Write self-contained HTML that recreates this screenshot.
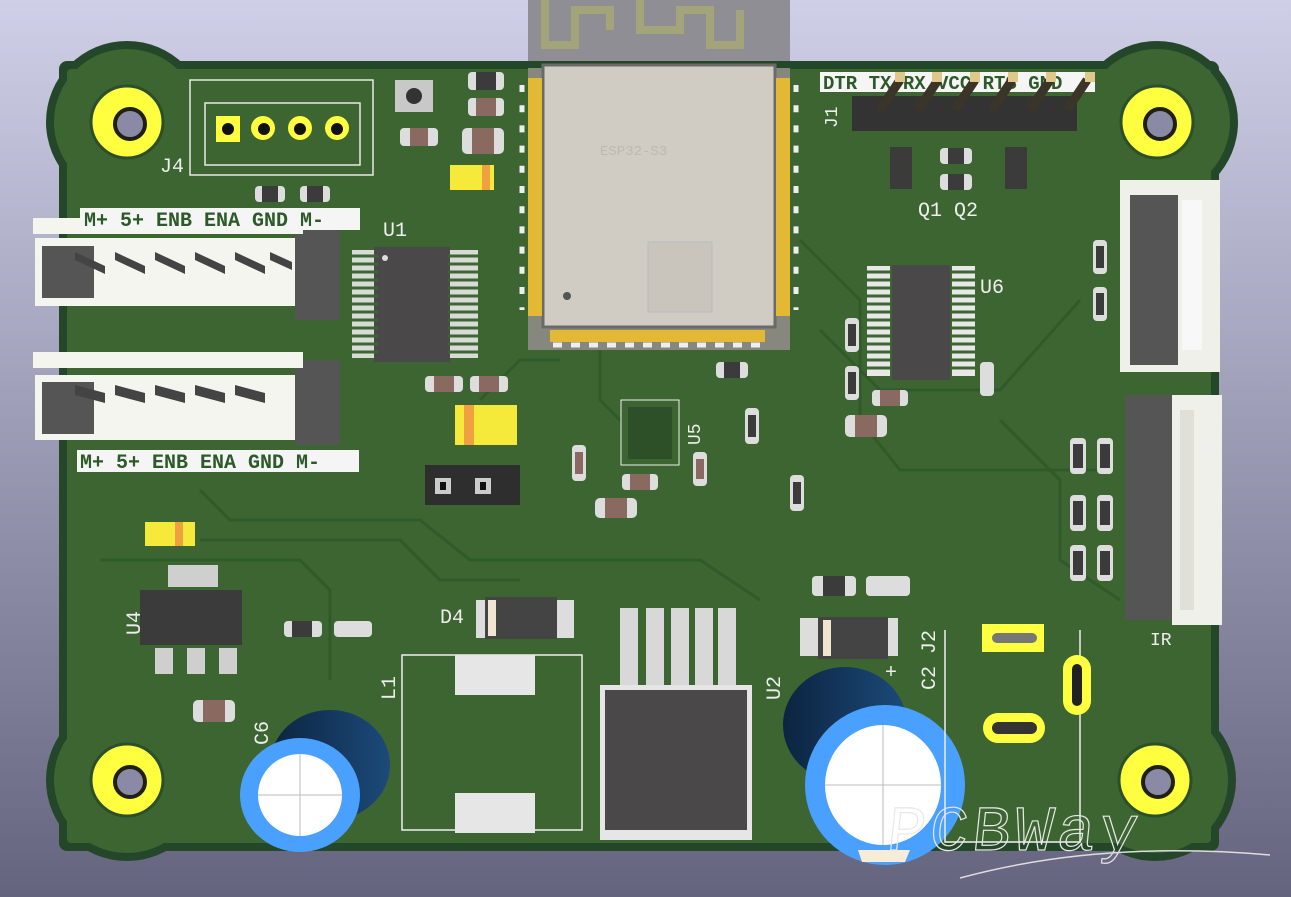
<!DOCTYPE html>
<html><head><meta charset="utf-8"><style>
html,body{margin:0;padding:0;width:1291px;height:897px;overflow:hidden}
svg{display:block}
text{font-family:"Liberation Mono","DejaVu Sans Mono",monospace}
</style></head><body>
<svg width="1291" height="897" viewBox="0 0 1291 897" xmlns="http://www.w3.org/2000/svg">
<defs>
<linearGradient id="bg" x1="0" y1="0" x2="0" y2="1">
<stop offset="0" stop-color="#cfcfe8"/><stop offset="1" stop-color="#64647e"/></linearGradient>
<linearGradient id="cap" x1="0" y1="0" x2="1" y2="0"><stop offset="0" stop-color="#0c2440"/><stop offset="1" stop-color="#1c4a7a"/></linearGradient>
</defs>
<rect width="1291" height="897" fill="url(#bg)"/>
<!-- ESP antenna -->
<rect x="528" y="0" width="262" height="70" fill="#8e8e94"/>
<path d="M545 0 V45 H575 V10 H610 V30 M640 0 V30 H680 V10 H710 V45 H740 V10" fill="none" stroke="#a4a47a" stroke-width="8"/>
<!-- board -->
<g fill="#24472a">
<rect x="59" y="61" width="1160" height="790" rx="8"/>
<circle cx="127" cy="122" r="81"/><circle cx="1157" cy="122" r="81"/><circle cx="127" cy="780" r="81"/><circle cx="1155" cy="780" r="81"/>
</g>
<g fill="#3d6532">
<rect x="67" y="69" width="1144" height="774" rx="4"/>
<circle cx="127" cy="122" r="73"/><circle cx="1157" cy="122" r="73"/><circle cx="127" cy="780" r="73"/><circle cx="1155" cy="780" r="73"/>
</g>
<!-- traces hint -->
<g fill="none" stroke="#2f5a2a" stroke-width="3">
<path d="M200 490 L230 520 H420 L470 560 H700 L760 600"/><path d="M200 540 H400 L440 580 H520"/>
<path d="M800 240 L860 300 V420 L900 470 H1100"/><path d="M820 330 L880 390 H1000 L1080 300"/>
<path d="M480 400 L520 360 H560"/><path d="M100 560 H300 L330 590 V680"/>
<path d="M600 350 V400 L640 440"/><path d="M1000 420 L1060 480 V560 L1120 600"/>
</g>
<!-- mounting holes -->
<g fill="#ffff40" stroke="#2a4f2a" stroke-width="3">
<circle cx="127" cy="122" r="36"/><circle cx="1157" cy="122" r="36"/><circle cx="127" cy="780" r="36"/><circle cx="1155" cy="780" r="36"/>
</g>
<g fill="#8b8aa6" stroke="#202010" stroke-width="4">
<circle cx="130" cy="124" r="15"/><circle cx="1160" cy="124" r="15"/><circle cx="130" cy="782" r="15"/><circle cx="1158" cy="782" r="15"/>
</g>
<!-- J4 -->
<g fill="none" stroke="#e8e8e8" stroke-width="1.5">
<rect x="190" y="80" width="183" height="95"/><rect x="205" y="103" width="155" height="62"/>
</g>
<rect x="216" y="116" width="24" height="26" fill="#ffff40"/>
<g fill="#ffff40"><circle cx="263" cy="128" r="12"/><circle cx="300" cy="128" r="12"/><circle cx="337" cy="128" r="12"/></g>
<g fill="#111"><circle cx="228" cy="129" r="6"/><circle cx="264" cy="129" r="6"/><circle cx="300" cy="129" r="6"/><circle cx="337" cy="129" r="6"/></g>
<text x="160" y="172" font-size="20" fill="#eee">J4</text>
<!-- small SMD -->
<g fill="#ddd">
<rect x="255" y="186" width="30" height="16" rx="4"/><rect x="300" y="186" width="30" height="16" rx="4"/>
<rect x="400" y="128" width="38" height="18" rx="4"/><rect x="468" y="72" width="36" height="18" rx="4"/><rect x="468" y="98" width="36" height="18" rx="4"/><rect x="462" y="128" width="42" height="26" rx="5"/>
<rect x="425" y="376" width="38" height="16" rx="4"/><rect x="470" y="376" width="38" height="16" rx="4"/>
<rect x="716" y="362" width="32" height="16" rx="4"/><rect x="845" y="318" width="14" height="34" rx="4"/><rect x="845" y="366" width="14" height="34" rx="4"/><rect x="845" y="415" width="42" height="22" rx="5"/><rect x="872" y="390" width="36" height="16" rx="4"/>
<rect x="940" y="148" width="32" height="16" rx="4"/><rect x="940" y="174" width="32" height="16" rx="4"/>
<rect x="1093" y="240" width="14" height="34" rx="4"/><rect x="1093" y="287" width="14" height="34" rx="4"/><rect x="980" y="362" width="14" height="34" rx="4"/>
<rect x="572" y="445" width="14" height="36" rx="4"/><rect x="595" y="498" width="42" height="20" rx="5"/><rect x="622" y="474" width="36" height="16" rx="4"/><rect x="693" y="452" width="14" height="34" rx="4"/><rect x="745" y="408" width="14" height="36" rx="4"/><rect x="790" y="475" width="14" height="36" rx="4"/>
<rect x="1070" y="438" width="16" height="36" rx="4"/><rect x="1097" y="438" width="16" height="36" rx="4"/><rect x="1070" y="495" width="16" height="36" rx="4"/><rect x="1097" y="495" width="16" height="36" rx="4"/><rect x="1070" y="545" width="16" height="36" rx="4"/><rect x="1097" y="545" width="16" height="36" rx="4"/>
<rect x="812" y="576" width="44" height="20" rx="4"/><rect x="866" y="576" width="44" height="20" rx="4"/>
<rect x="284" y="621" width="38" height="16" rx="4"/><rect x="334" y="621" width="38" height="16" rx="4"/><rect x="193" y="700" width="42" height="22" rx="5"/>
</g>
<g fill="#3b3b3b"><rect x="262" y="186" width="16" height="16"/><rect x="307" y="186" width="16" height="16"/><rect x="476" y="72" width="20" height="18"/><rect x="724" y="362" width="16" height="16"/><rect x="823" y="576" width="22" height="20"/><rect x="848" y="324" width="8" height="22"/><rect x="848" y="372" width="8" height="22"/><rect x="948" y="148" width="16" height="16"/><rect x="948" y="174" width="16" height="16"/><rect x="1096" y="246" width="8" height="22"/><rect x="1096" y="293" width="8" height="22"/><rect x="1073" y="444" width="10" height="24"/><rect x="1100" y="444" width="10" height="24"/><rect x="1073" y="501" width="10" height="24"/><rect x="1100" y="501" width="10" height="24"/><rect x="1073" y="551" width="10" height="24"/><rect x="1100" y="551" width="10" height="24"/><rect x="292" y="621" width="20" height="16"/><rect x="748" y="415" width="8" height="22"/><rect x="793" y="482" width="8" height="22"/></g>
<g fill="#8a6a60"><rect x="410" y="128" width="18" height="18"/><rect x="476" y="98" width="20" height="18"/><rect x="472" y="128" width="22" height="26"/><rect x="434" y="376" width="20" height="16"/><rect x="479" y="376" width="20" height="16"/><rect x="855" y="415" width="22" height="22"/><rect x="880" y="390" width="20" height="16"/><rect x="605" y="498" width="22" height="20"/><rect x="630" y="474" width="20" height="16"/><rect x="575" y="452" width="8" height="22"/><rect x="696" y="459" width="8" height="20"/><rect x="203" y="700" width="22" height="22"/></g>
<!-- button -->
<rect x="395" y="80" width="38" height="32" fill="#c8c8c8"/><circle cx="414" cy="96" r="8" fill="#333"/>
<!-- tantalum caps -->
<rect x="450" y="165" width="44" height="25" fill="#f5e93a"/><rect x="482" y="165" width="8" height="25" fill="#f0a040"/>
<rect x="455" y="405" width="62" height="40" fill="#f5e93a"/><rect x="464" y="405" width="10" height="40" fill="#f0a040"/>
<rect x="145" y="522" width="50" height="24" fill="#f5e93a"/><rect x="175" y="522" width="8" height="24" fill="#f0a040"/>
<!-- motor connectors -->
<g>
<rect x="35" y="238" width="300" height="68" fill="#f5f5f0"/><rect x="42" y="246" width="52" height="52" fill="#555"/><rect x="295" y="230" width="45" height="90" fill="#555"/>
<rect x="33" y="218" width="270" height="16" fill="#f5f5f0"/>
<rect x="35" y="375" width="300" height="65" fill="#f5f5f0"/><rect x="42" y="382" width="52" height="52" fill="#555"/><rect x="295" y="360" width="45" height="85" fill="#555"/>
<rect x="33" y="352" width="270" height="16" fill="#f5f5f0"/>
<g fill="#444"><path d="M75 252 l30 14 v8 l-30 -14z M115 252 l30 14 v8 l-30 -14z M155 252 l30 14 v8 l-30 -14z M195 252 l30 14 v8 l-30 -14z M235 252 l30 14 v8 l-30 -14z M270 252 l22 10 v8 l-22 -10z"/>
<path d="M75 385 l30 8 v10 l-30 -8z M115 385 l30 8 v10 l-30 -8z M155 385 l30 8 v10 l-30 -8z M195 385 l30 8 v10 l-30 -8z M235 385 l30 8 v10 l-30 -8z"/></g>
</g>
<rect x="80" y="208" width="280" height="22" fill="#f5f5f5"/>
<text x="84" y="226" font-size="20" fill="#2c5a28" font-weight="bold">M+ 5+ ENB ENA GND M-</text>
<rect x="77" y="450" width="282" height="22" fill="#f5f5f5"/>
<text x="80" y="468" font-size="20" fill="#2c5a28" font-weight="bold">M+ 5+ ENB ENA GND M-</text>
<!-- U1 -->
<rect x="374" y="247" width="76" height="115" fill="#4a4848"/><circle cx="385" cy="258" r="3" fill="#ddd"/>
<g fill="#e8e8e8"><rect x="352" y="250" width="22" height="108" opacity=".9"/><rect x="450" y="250" width="28" height="108" opacity=".9"/></g>
<g stroke="#3d6532" stroke-width="3"><path d="M352 256 h26 M352 264 h26 M352 272 h26 M352 280 h26 M352 288 h26 M352 296 h26 M352 304 h26 M352 312 h26 M352 320 h26 M352 328 h26 M352 336 h26 M352 344 h26 M352 352 h26 M448 256 h32 M448 264 h32 M448 272 h32 M448 280 h32 M448 288 h32 M448 296 h32 M448 304 h32 M448 312 h32 M448 320 h32 M448 328 h32 M448 336 h32 M448 344 h32 M448 352 h32"/></g>
<text x="383" y="236" font-size="20" fill="#eee">U1</text>
<!-- ESP module -->
<rect x="528" y="68" width="262" height="282" fill="#86887e"/>
<rect x="543" y="65" width="232" height="262" fill="#d0ccc4" stroke="#6a6a66" stroke-width="3"/>
<rect x="648" y="242" width="64" height="70" fill="#c9c4bc" stroke="#bbb"/>
<circle cx="567" cy="296" r="4" fill="#555"/>
<text x="600" y="155" font-size="14" fill="#bdb8b0">ESP32-S3</text>
<g fill="#e3b834">
<rect x="528" y="78" width="14" height="238"/><rect x="776" y="78" width="14" height="238"/><rect x="550" y="330" width="215" height="12"/>
</g>
<g stroke="#eee" stroke-width="5"><path d="M522 85 v225 M796 85 v225" stroke-dasharray="7 13.2"/><path d="M553 345 h210" stroke-dasharray="9 9"/></g>
<!-- J1 -->
<rect x="820" y="72" width="275" height="20" fill="#f5f5f5"/>
<text x="823" y="89" font-size="19" fill="#2c5a28" font-weight="bold">DTR TX RX VCC RTS GND</text>
<rect x="852" y="96" width="225" height="35" fill="#333"/>
<g stroke="#3a3528" stroke-width="9"><path d="M880 110 L900 80 M918 110 L938 80 M955 110 L975 80 M992 110 L1012 80 M1030 110 L1050 80 M1067 110 L1087 80"/></g>
<g fill="#e0c88a"><rect x="895" y="72" width="10" height="10"/><rect x="932" y="72" width="10" height="10"/><rect x="970" y="72" width="10" height="10"/><rect x="1008" y="72" width="10" height="10"/><rect x="1046" y="72" width="10" height="10"/><rect x="1085" y="72" width="10" height="10"/></g>
<text x="837" y="128" font-size="18" fill="#eee" transform="rotate(-90 837 128)">J1</text>
<rect x="890" y="147" width="22" height="42" fill="#3b3b3b"/><rect x="1005" y="147" width="22" height="42" fill="#3b3b3b"/>
<text x="918" y="216" font-size="20" fill="#eee">Q1 Q2</text>
<!-- U6 -->
<g fill="#e8e8e8"><rect x="867" y="266" width="23" height="110"/><rect x="952" y="266" width="23" height="110"/></g>
<g stroke="#3d6532" stroke-width="3"><path d="M867 272 h110 M867 280 h110 M867 288 h110 M867 296 h110 M867 304 h110 M867 312 h110 M867 320 h110 M867 328 h110 M867 336 h110 M867 344 h110 M867 352 h110 M867 360 h110 M867 368 h110"/></g>
<rect x="892" y="265" width="58" height="115" fill="#4a4848"/>
<text x="980" y="293" font-size="20" fill="#eee">U6</text>
<!-- U5 -->
<rect x="621" y="400" width="58" height="65" fill="#3d6532" stroke="#eee" stroke-width="1"/>
<rect x="628" y="407" width="44" height="52" fill="#2e5028"/>
<text x="700" y="445" font-size="18" fill="#eee" transform="rotate(-90 700 445)">U5</text>
<!-- jumper -->
<rect x="425" y="465" width="95" height="40" fill="#2e2e2e"/><rect x="435" y="478" width="16" height="16" fill="#ccc"/><rect x="475" y="478" width="16" height="16" fill="#ccc"/>
<rect x="440" y="482" width="6" height="8" fill="#111"/><rect x="480" y="482" width="6" height="8" fill="#111"/>
<!-- right connectors -->
<rect x="1120" y="180" width="100" height="192" fill="#f0f0ea"/><rect x="1130" y="195" width="48" height="170" fill="#555"/><rect x="1182" y="200" width="20" height="150" fill="#f8f8f8"/>
<rect x="1125" y="395" width="55" height="225" fill="#555"/><rect x="1172" y="395" width="50" height="230" fill="#f0f0ea"/><rect x="1180" y="410" width="14" height="200" fill="#e0e0d8"/>
<text x="1215" y="460" font-size="18" fill="#eee" transform="rotate(-90 1215 460)">J5</text>
<text x="1150" y="645" font-size="18" fill="#eee">IR</text>
<!-- U4 -->
<rect x="168" y="565" width="50" height="22" fill="#cfcfcf"/>
<rect x="140" y="590" width="102" height="55" fill="#3b3b3b"/>
<g fill="#cfcfcf"><rect x="155" y="648" width="18" height="26"/><rect x="187" y="648" width="18" height="26"/><rect x="219" y="648" width="18" height="26"/></g>
<text x="140" y="635" font-size="20" fill="#eee" transform="rotate(-90 140 635)">U4</text>
<!-- D4 -->
<rect x="476" y="600" width="98" height="38" fill="#ddd"/><rect x="485" y="597" width="72" height="42" fill="#444"/><rect x="488" y="600" width="8" height="36" fill="#f1e4d0"/>
<text x="440" y="623" font-size="20" fill="#eee">D4</text>
<rect x="800" y="618" width="98" height="38" fill="#ddd"/><rect x="818" y="617" width="70" height="42" fill="#444"/><rect x="823" y="620" width="8" height="36" fill="#f1e4d0"/>
<!-- L1 -->
<rect x="402" y="655" width="180" height="175" fill="none" stroke="#eee" stroke-width="1.5"/>
<rect x="455" y="655" width="80" height="40" fill="#e6e6e6"/><rect x="455" y="793" width="80" height="40" fill="#e6e6e6"/>
<text x="395" y="700" font-size="20" fill="#eee" transform="rotate(-90 395 700)">L1</text>
<!-- U2 -->
<g fill="#d8d8d8"><rect x="620" y="608" width="18" height="80"/><rect x="646" y="608" width="18" height="80"/><rect x="671" y="608" width="18" height="80"/><rect x="695" y="608" width="18" height="80"/><rect x="718" y="608" width="18" height="80"/></g>
<rect x="600" y="685" width="152" height="155" fill="#e6e6e6"/><rect x="605" y="690" width="142" height="140" fill="#4a4848"/>
<text x="780" y="700" font-size="20" fill="#eee" transform="rotate(-90 780 700)">U2</text>
<!-- C6 -->
<ellipse cx="330" cy="765" rx="60" ry="55" fill="url(#cap)"/>
<ellipse cx="300" cy="795" rx="60" ry="57" fill="#4aa0ff"/>
<ellipse cx="300" cy="795" rx="42" ry="41" fill="#fff"/>
<path d="M258 795 H342 M300 754 V836" stroke="#bbb"/>
<text x="268" y="745" font-size="20" fill="#eee" transform="rotate(-90 268 745)">C6</text>
<!-- C2 -->
<ellipse cx="845" cy="725" rx="62" ry="58" fill="url(#cap)"/>
<ellipse cx="885" cy="785" rx="80" ry="80" fill="#4aa0ff"/>
<ellipse cx="883" cy="785" rx="58" ry="60" fill="#fff"/>
<path d="M858 850 L910 850 L905 862 L862 862Z" fill="#f6ecd8"/>
<path d="M825 785 H941 M883 725 V845" stroke="#bbb"/>
<text x="935" y="690" font-size="20" fill="#eee" transform="rotate(-90 935 690)">C2 J2</text>
<text x="885" y="678" font-size="20" fill="#eee">+</text>
<!-- J2 -->
<path d="M945 630 V842 H1080 V630" fill="none" stroke="#eee" stroke-width="1.5"/>
<rect x="982" y="624" width="62" height="28" fill="#ffff40"/><rect x="992" y="633" width="45" height="10" rx="5" fill="#777"/>
<rect x="1063" y="655" width="28" height="60" rx="14" fill="#ffff40"/><rect x="1072" y="664" width="10" height="42" rx="5" fill="#222"/>
<rect x="983" y="713" width="62" height="30" rx="15" fill="#ffff40"/><rect x="992" y="722" width="45" height="12" rx="6" fill="#333"/>
<!-- PCBWay watermark -->
<text x="975" y="850" font-size="64" fill="none" stroke="#e8e8e8" stroke-width="1.2" font-family="Liberation Sans,sans-serif" transform="skewX(-6)" style="letter-spacing:4px">PCBWay</text>
<path d="M960 878 Q1100 840 1270 855" fill="none" stroke="#ddd" stroke-width="1.5"/>
</svg>
</body></html>
